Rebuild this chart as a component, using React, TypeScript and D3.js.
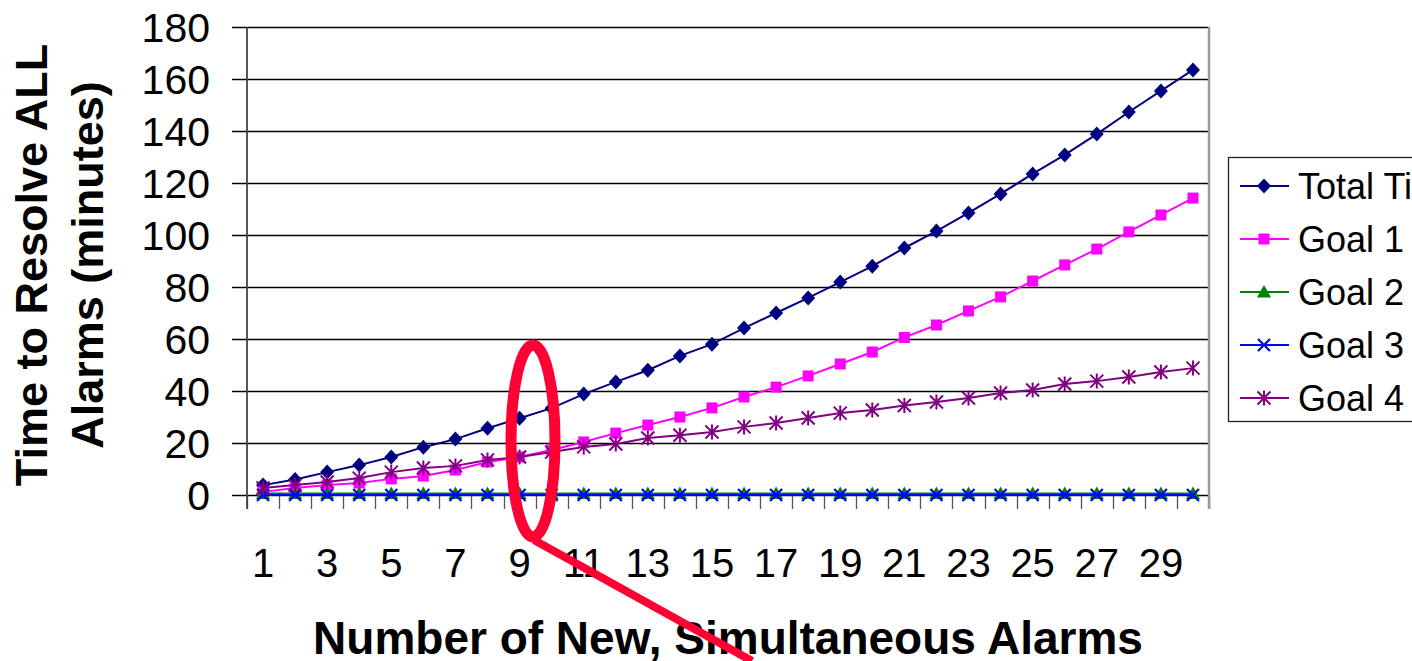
import React from 'react';
import * as d3 from 'd3';

const alarms = d3.range(1, 31).map(String);
const totalTime = [3.8, 6, 8.8, 11.5, 14.6, 18.4, 21.5, 25.7, 29.5, 33.4, 38.8, 43.5, 48, 53.5, 58, 64.2, 70, 75.8, 81.9, 88, 95, 101.5, 108.5, 115.8, 123.5, 130.8, 138.8, 147.3, 155.4, 163.5];
const goal1 = [1.2, 2.7, 3.8, 4.6, 6.2, 7.3, 9.6, 12.7, 14.6, 17.3, 20.4, 23.8, 26.9, 30, 33.5, 37.7, 41.5, 45.8, 50.4, 55, 60.6, 65.4, 70.8, 76.2, 82.3, 88.5, 94.6, 101.2, 107.7, 114.2];
const goal2 = [0.6, 0.6, 0.6, 0.6, 0.6, 0.6, 0.6, 0.6, 0.6, 0.6, 0.6, 0.6, 0.6, 0.6, 0.6, 0.6, 0.6, 0.6, 0.6, 0.6, 0.6, 0.6, 0.6, 0.6, 0.6, 0.6, 0.6, 0.6, 0.6, 0.6];
const goal3 = [0, 0, 0, 0, 0, 0, 0, 0, 0, 0, 0, 0, 0, 0, 0, 0, 0, 0, 0, 0, 0, 0, 0, 0, 0, 0, 0, 0, 0, 0];
const goal4 = [2.7, 3.8, 5, 6.5, 8.8, 10.4, 11.2, 13.5, 14.6, 16.5, 18.5, 19.6, 21.9, 23, 24.2, 26.2, 27.7, 29.6, 31.5, 32.7, 34.4, 35.8, 37.3, 39.2, 40.4, 42.7, 43.8, 45.4, 47.3, 48.8];
const yTicks = [0, 20, 40, 60, 80, 100, 120, 140, 160, 180];
const xLabels = ['1', '3', '5', '7', '9', '11', '13', '15', '17', '19', '21', '23', '25', '27', '29'];

const series = [
  { name: 'Total Time', values: totalTime, color: '#000080', marker: 'diamond' },
  { name: 'Goal 1', values: goal1, color: '#FF00FF', marker: 'square' },
  { name: 'Goal 2', values: goal2, color: '#008000', marker: 'triangle' },
  { name: 'Goal 3', values: goal3, color: '#0000FF', marker: 'x' },
  { name: 'Goal 4', values: goal4, color: '#800080', marker: 'star' },
];

const font = 'Arial, Liberation Sans, sans-serif';

const Marker = ({ type, x, y, color }: { type: string; x: number; y: number; color: string }) => {
  if (type === 'diamond') {
    return <path d={`M${x},${y - 7.5}L${x + 7},${y}L${x},${y + 7.5}L${x - 7},${y}Z`} fill={color} />;
  }
  if (type === 'square') {
    return <rect x={x - 5.5} y={y - 5.5} width={11} height={11} fill={color} />;
  }
  if (type === 'triangle') {
    return <path d={`M${x},${y - 7}L${x + 7},${y + 5.5}L${x - 7},${y + 5.5}Z`} fill={color} />;
  }
  if (type === 'x') {
    return <path d={`M${x - 6},${y - 6}L${x + 6},${y + 6}M${x - 6},${y + 6}L${x + 6},${y - 6}`} stroke={color} strokeWidth={2.2} />;
  }
  return (
    <path
      d={`M${x - 6.5},${y - 6.5}L${x + 6.5},${y + 6.5}M${x - 6.5},${y + 6.5}L${x + 6.5},${y - 6.5}M${x},${y - 7.5}L${x},${y + 7.5}`}
      stroke={color}
      strokeWidth={2}
    />
  );
};

export default function App() {
  const width = 1412;
  const height = 661;
  const left = 247;
  const right = 1209;
  const top = 27;
  const bottom = 495;

  const x = d3.scaleBand().domain(alarms).range([left, right]);
  const y = d3.scaleLinear().domain([0, 180]).range([bottom, top]);
  const cx = (d: string) => (x(d) || 0) + x.bandwidth() / 2;
  const crisp = (v: number) => Math.round(v) + 0.5;

  const line = d3.line<number>()
    .x((_, i) => cx(alarms[i]))
    .y(d => y(d));

  return (
    <svg width={width} height={height} style={{ position: 'absolute', left: 0, top: 0, background: '#fff' }} fontFamily={font}>
      {/* gridlines */}
      {yTicks.map(t => (
        <g key={t}>
          <line x1={left - 15} x2={right} y1={crisp(y(t))} y2={crisp(y(t))} stroke="#000" strokeWidth={1.3} />
          <text x={210} y={y(t) + 15} textAnchor="end" fontSize={41}>{t}</text>
        </g>
      ))}
      {/* x ticks */}
      {d3.range(0, 31).map(i => (
        <line key={i} x1={crisp(left + i * x.bandwidth())} x2={crisp(left + i * x.bandwidth())} y1={bottom} y2={bottom + 14} stroke="#555" strokeWidth={1.3} />
      ))}
      <line x1={left} x2={left} y1={top} y2={bottom + 14} stroke="#444" strokeWidth={1.8} />
      <line x1={right} x2={right} y1={top} y2={bottom + 14} stroke="#999" strokeWidth={2.5} />

      {/* series */}
      {series.map(s => (
        <g key={s.name}>
          <path d={line(s.values) || ''} fill="none" stroke={s.color} strokeWidth={2} />
          {s.values.map((v, i) => (
            <Marker key={i} type={s.marker} x={cx(alarms[i])} y={y(v)} color={s.color} />
          ))}
        </g>
      ))}

      {/* x labels */}
      {xLabels.map(l => (
        <text key={l} x={cx(l)} y={577} textAnchor="middle" fontSize={40}>{l}</text>
      ))}

      {/* axis titles */}
      <text x={(left + right) / 2} y={654} textAnchor="middle" fontSize={46} fontWeight="bold">
        Number of New, Simultaneous Alarms
      </text>
      <text transform={`translate(47,265) rotate(-90)`} textAnchor="middle" fontSize={45} fontWeight="bold">
        Time to Resolve ALL
      </text>
      <text transform={`translate(103,265) rotate(-90)`} textAnchor="middle" fontSize={45} fontWeight="bold">
        Alarms (minutes)
      </text>

      {/* legend */}
      <rect x={1228.5} y={157.5} width={220} height={264} fill="#fff" stroke="#222" strokeWidth={1.3} />
      {series.map((s, i) => {
        const ly = 186 + i * 53;
        return (
          <g key={s.name}>
            <line x1={1240} x2={1289} y1={ly} y2={ly} stroke={s.color} strokeWidth={2} />
            <Marker type={s.marker} x={1264} y={ly} color={s.color} />
            <text x={1298} y={ly + 13} fontSize={36}>{s.name}</text>
          </g>
        );
      })}

      {/* annotation */}
      <ellipse cx={533} cy={441} rx={22} ry={96} fill="none" stroke="#FF0033" strokeWidth={11} />
      <line x1={534} x2={752} y1={540} y2={661} stroke="#FF0033" strokeWidth={8} />
    </svg>
  );
}
